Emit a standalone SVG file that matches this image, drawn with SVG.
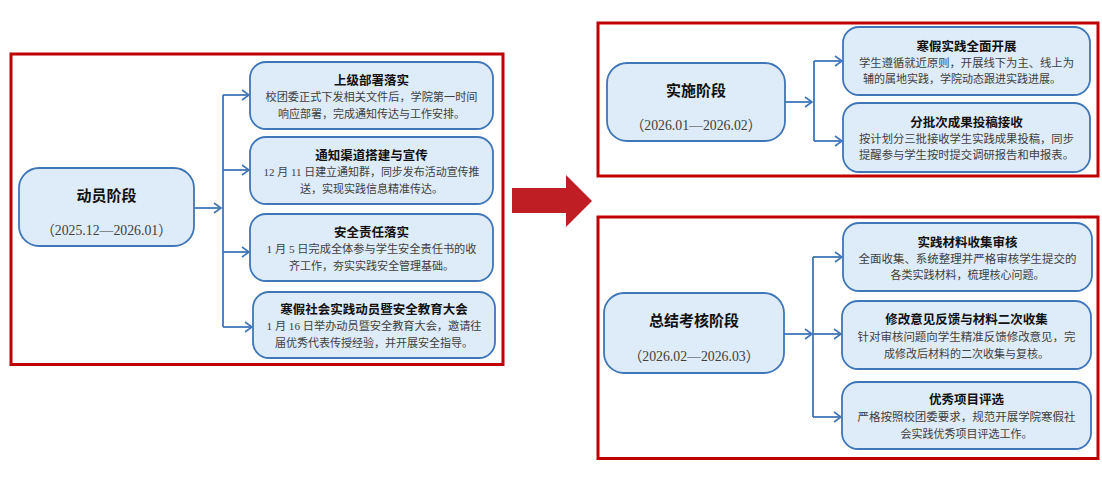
<svg xmlns="http://www.w3.org/2000/svg" width="1102" height="478" viewBox="0 0 1102 478">
<defs>
<marker id="ah" markerWidth="10" markerHeight="12" refX="8" refY="6" orient="auto" markerUnits="userSpaceOnUse">
<path d="M1,1 L8,6 L1,11" fill="none" stroke="#3F76B8" stroke-width="1.6"/>
</marker>
</defs>
<style>
.frame{fill:none;stroke:#C00000;stroke-width:3}
.node{fill:#DEEBF8;stroke:#3F76B8;stroke-width:1.8}
.conn{fill:none;stroke:#3F76B8;stroke-width:1.8}
.ttl{font-family:"Liberation Sans","Noto Sans CJK SC",sans-serif;font-weight:bold;font-size:12.5px;fill:#111;text-anchor:middle}
.mt{font-family:"Liberation Sans","Noto Sans CJK SC",sans-serif;font-weight:bold;font-size:15px;fill:#111;text-anchor:middle}
.dt{font-family:"Liberation Serif","Noto Sans CJK SC",serif;font-size:14px;fill:#404040;text-anchor:middle}
.bd{font-family:"Liberation Serif","Noto Sans CJK SC",serif;font-size:11px;fill:#404040;text-anchor:middle}
</style>
<rect width="1102" height="478" fill="#fff"/>
<g id="frames">
<rect class="frame" x="11" y="54" width="492" height="310.5"/>
<rect class="frame" x="598" y="23" width="500" height="153"/>
<rect class="frame" x="598" y="217" width="500" height="241.5"/>
</g>
<g id="bigArrow">
<polygon points="512,188 566,188 566,175 592,201 566,227 566,213 512,213" fill="#BE1E24"/>
</g>
<g id="connectors">
<path class="conn" d="M194,208 H221" marker-end="url(#ah)"/>
<path class="conn" d="M223,95 V327"/>
<path class="conn" d="M223,95 H249" marker-end="url(#ah)"/>
<path class="conn" d="M223,170 H249" marker-end="url(#ah)"/>
<path class="conn" d="M223,252 H249" marker-end="url(#ah)"/>
<path class="conn" d="M223,327 H252" marker-end="url(#ah)"/>
<path class="conn" d="M785,102 H812" marker-end="url(#ah)"/>
<path class="conn" d="M814,61 V141"/>
<path class="conn" d="M814,61 H842" marker-end="url(#ah)"/>
<path class="conn" d="M814,141 H842" marker-end="url(#ah)"/>
<path class="conn" d="M784,334 H812" marker-end="url(#ah)"/>
<path class="conn" d="M813,257 V417"/>
<path class="conn" d="M813,257 H842" marker-end="url(#ah)"/>
<path class="conn" d="M813,334 H841" marker-end="url(#ah)"/>
<path class="conn" d="M813,417 H841" marker-end="url(#ah)"/>
</g>
<g id="n-mobilize">
<rect class="node" x="19" y="168" width="175" height="78" rx="20"/>
<text class="mt" x="106.5" y="201">动员阶段</text>
<text class="dt" x="106.5" y="235" textLength="131" lengthAdjust="spacingAndGlyphs">（2025.12—2026.01）</text>
</g>
<g id="n-m1">
<rect class="node" x="250" y="62" width="243" height="67" rx="16"/>
<text class="ttl" x="371.5" y="84.5">上级部署落实</text>
<text class="bd" x="371.5" y="101" textLength="212" lengthAdjust="spacingAndGlyphs">校团委正式下发相关文件后，学院第一时间</text>
<text class="bd" x="371.5" y="117.5">响应部署，完成通知传达与工作安排。</text>
</g>
<g id="n-m2">
<rect class="node" x="250" y="137" width="243" height="67" rx="16"/>
<text class="ttl" x="371.5" y="159.5">通知渠道搭建与宣传</text>
<text class="bd" x="371.5" y="176" textLength="216" lengthAdjust="spacingAndGlyphs">12 月 11 日建立通知群，同步发布活动宣传推</text>
<text class="bd" x="371.5" y="192.5">送，实现实践信息精准传达。</text>
</g>
<g id="n-m3">
<rect class="node" x="250" y="214" width="243" height="67" rx="16"/>
<text class="ttl" x="371.5" y="236.5">安全责任落实</text>
<text class="bd" x="371.5" y="253" textLength="210" lengthAdjust="spacingAndGlyphs">1 月 5 日完成全体参与学生安全责任书的收</text>
<text class="bd" x="371.5" y="269.5">齐工作，夯实实践安全管理基础。</text>
</g>
<g id="n-m4">
<rect class="node" x="253" y="292" width="242" height="66" rx="16"/>
<text class="ttl" x="374" y="313.5">寒假社会实践动员暨安全教育大会</text>
<text class="bd" x="374" y="330" textLength="215" lengthAdjust="spacingAndGlyphs">1 月 16 日举办动员暨安全教育大会，邀请往</text>
<text class="bd" x="374" y="346.5">届优秀代表传授经验，并开展安全指导。</text>
</g>
<g id="n-implement">
<rect class="node" x="607" y="63" width="178" height="78" rx="20"/>
<text class="mt" x="696" y="96">实施阶段</text>
<text class="dt" x="696" y="129.5" textLength="131" lengthAdjust="spacingAndGlyphs">（2026.01—2026.02）</text>
</g>
<g id="n-i1">
<rect class="node" x="843" y="27" width="247" height="68" rx="16"/>
<text class="ttl" x="966.5" y="50.5">寒假实践全面开展</text>
<text class="bd" x="966.5" y="66.5" textLength="215" lengthAdjust="spacingAndGlyphs">学生遵循就近原则，开展线下为主、线上为</text>
<text class="bd" x="962" y="82.5">辅的属地实践，学院动态跟进实践进展。</text>
</g>
<g id="n-i2">
<rect class="node" x="843" y="103" width="247" height="69" rx="16"/>
<text class="ttl" x="966.5" y="126.5">分批次成果投稿接收</text>
<text class="bd" x="966.5" y="143" textLength="215" lengthAdjust="spacingAndGlyphs">按计划分三批接收学生实践成果投稿，同步</text>
<text class="bd" x="966.5" y="159" textLength="215" lengthAdjust="spacingAndGlyphs">提醒参与学生按时提交调研报告和申报表。</text>
</g>
<g id="n-summary">
<rect class="node" x="604" y="293" width="180" height="80" rx="20"/>
<text class="mt" x="694" y="326">总结考核阶段</text>
<text class="dt" x="694" y="360.5" textLength="131" lengthAdjust="spacingAndGlyphs">（2026.02—2026.03）</text>
</g>
<g id="n-s1">
<rect class="node" x="843" y="223" width="249" height="68" rx="16"/>
<text class="ttl" x="967.5" y="246.5">实践材料收集审核</text>
<text class="bd" x="967.5" y="262.5" textLength="218" lengthAdjust="spacingAndGlyphs">全面收集、系统整理并严格审核学生提交的</text>
<text class="bd" x="967.5" y="278.5">各类实践材料，梳理核心问题。</text>
</g>
<g id="n-s2">
<rect class="node" x="842" y="301" width="249" height="68" rx="16"/>
<text class="ttl" x="966.5" y="323.5">修改意见反馈与材料二次收集</text>
<text class="bd" x="966.5" y="340.5" textLength="218" lengthAdjust="spacingAndGlyphs">针对审核问题向学生精准反馈修改意见，完</text>
<text class="bd" x="966.5" y="357.5">成修改后材料的二次收集与复核。</text>
</g>
<g id="n-s3">
<rect class="node" x="842" y="382" width="249" height="67" rx="16"/>
<text class="ttl" x="966.5" y="403.5">优秀项目评选</text>
<text class="bd" x="966.5" y="420.5" textLength="218" lengthAdjust="spacingAndGlyphs">严格按照校团委要求，规范开展学院寒假社</text>
<text class="bd" x="966.5" y="437.5">会实践优秀项目评选工作。</text>
</g>
</svg>
